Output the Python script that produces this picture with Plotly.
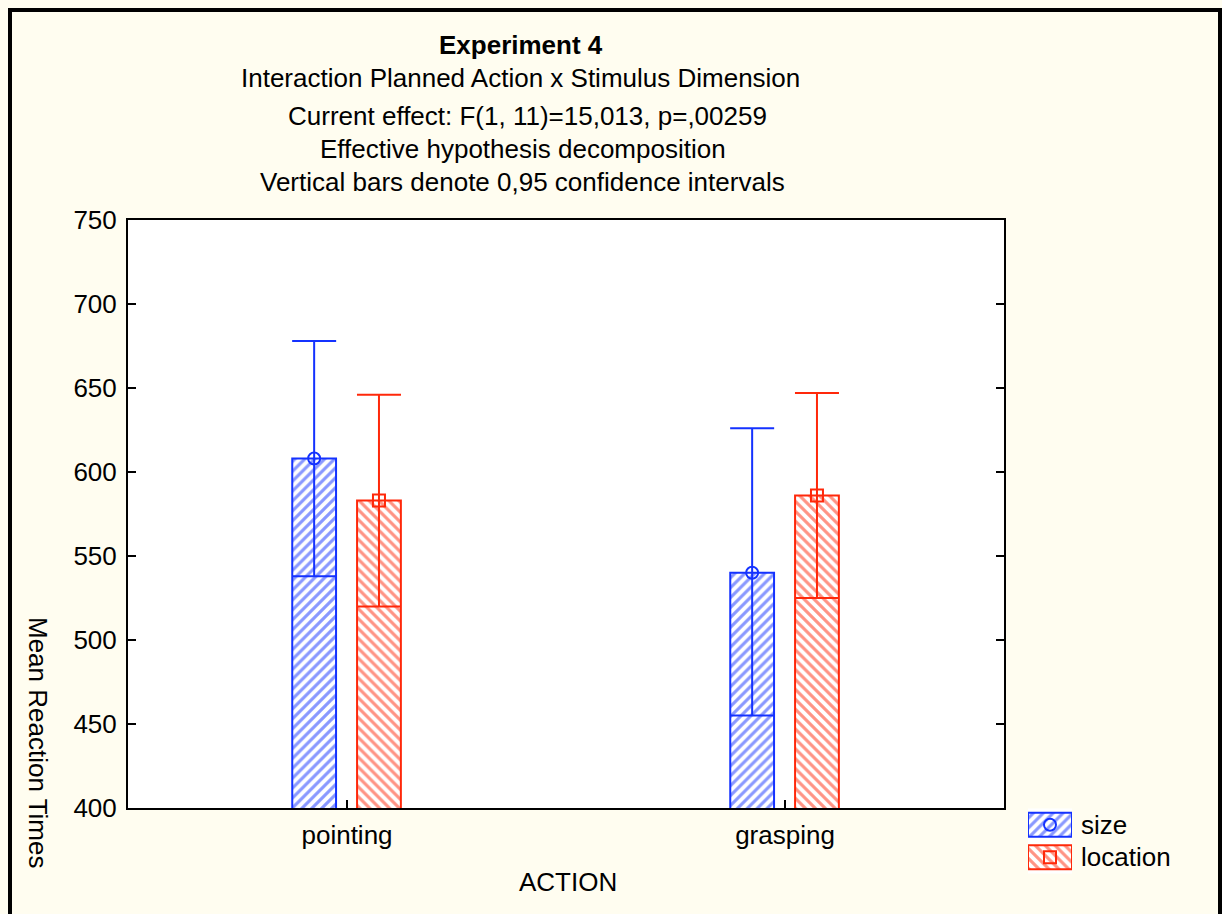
import plotly.graph_objects as go

# ---- data ----
categories = ["pointing", "grasping"]
series_names = ["size", "location"]
size_mean = [608, 540]
size_lo = [538, 455]
size_hi = [678, 626]
loc_mean = [583, 586]
loc_lo = [520, 525]
loc_hi = [646, 647]
y_ticks = [400, 450, 500, 550, 600, 650, 700, 750]

title_lines = [
    "<b>Experiment 4</b>",
    "Interaction Planned Action x Stimulus Dimension",
    "Current effect: F(1, 11)=15,013, p=,00259",
    "Effective hypothesis decomposition",
    "Vertical bars denote 0,95 confidence intervals",
]

# ---- style ----
W, H = 1222, 914
BLUE = "rgb(20,50,255)"
RED = "rgb(255,40,10)"
CREAM = "rgb(255,253,240)"
FONT = "Liberation Sans, Arial, sans-serif"
FS = 26

PL, PR, PT, PB = 128, 1004, 220, 808  # plot area in px


def px_x(px):
    return px / W


def px_y(py):
    return (H - py) / H


idx = list(range(len(categories)))
offsets = {"size": -0.075, "location": 0.073}
colors = {"size": BLUE, "location": RED}
shapes_p = {"size": "/", "location": "\\"}
symbols = {"size": "circle-open", "location": "square-open"}
data = {
    "size": (size_mean, size_lo, size_hi),
    "location": (loc_mean, loc_lo, loc_hi),
}

fig = go.Figure()

for name in series_names:
    mean, lo, hi = data[name]
    xs = [i + offsets[name] for i in idx]
    fig.add_trace(go.Bar(
        x=xs, y=mean, width=0.1, name=name, showlegend=False,
        marker=dict(color="white", line=dict(color=colors[name], width=2),
                    pattern=dict(shape=shapes_p[name], fgcolor=colors[name],
                                 bgcolor="white", size=7, solidity=0.45,
                                 fillmode="overlay")),
        xaxis="x", yaxis="y",
    ))

for name in series_names:
    mean, lo, hi = data[name]
    xs = [i + offsets[name] for i in idx]
    fig.add_trace(go.Scatter(
        x=xs, y=mean, mode="markers", showlegend=False,
        marker=dict(symbol=symbols[name], size=12, color=colors[name],
                    line=dict(width=2, color=colors[name])),
        error_y=dict(type="data", symmetric=False,
                     array=[h - m for h, m in zip(hi, mean)],
                     arrayminus=[m - l for m, l in zip(mean, lo)],
                     color=colors[name], thickness=2, width=22),
        xaxis="x", yaxis="y",
    ))

# legend built on a small axis
for name in series_names:
    fig.add_trace(go.Bar(
        x=[1], y=[name], orientation="h", width=0.74, showlegend=False,
        marker=dict(color="white", line=dict(color=colors[name], width=2),
                    pattern=dict(shape=shapes_p[name], fgcolor=colors[name],
                                 bgcolor="white", size=7, solidity=0.45,
                                 fillmode="overlay")),
        xaxis="x2", yaxis="y2",
    ))
    fig.add_trace(go.Scatter(
        x=[0.5], y=[name], mode="markers", showlegend=False,
        marker=dict(symbol=symbols[name], size=12, color=colors[name],
                    line=dict(width=2, color=colors[name])),
        xaxis="x2", yaxis="y2",
    ))

annotations = []
title_y = [45, 78, 116, 149, 182]
title_x = [521, 520, 527, 523, 522]
for t, yy, xx in zip(title_lines, title_y, title_x):
    annotations.append(dict(text=t, x=px_x(xx), y=px_y(yy), xref="paper", yref="paper",
                            showarrow=False, xanchor="center", yanchor="middle",
                            font=dict(family=FONT, size=FS, color="black")))
annotations.append(dict(text="ACTION", x=px_x(568), y=px_y(882), xref="paper", yref="paper",
                        showarrow=False, xanchor="center", yanchor="middle",
                        font=dict(family=FONT, size=FS, color="black")))
annotations.append(dict(text="Mean Reaction Times", x=px_x(38), y=px_y(742), xref="paper",
                        yref="paper", showarrow=False, textangle=90,
                        xanchor="center", yanchor="middle",
                        font=dict(family=FONT, size=FS, color="black")))

fig.update_layout(
    width=W, height=H,
    margin=dict(l=0, r=0, t=0, b=0, autoexpand=False),
    paper_bgcolor=CREAM, plot_bgcolor="white",
    barmode="overlay",
    font=dict(family=FONT, size=FS, color="black"),
    annotations=annotations,
    xaxis=dict(domain=[px_x(PL), px_x(PR)], range=[-0.5, 1.5], tickvals=idx,
               ticktext=categories, ticks="inside", ticklen=8, tickwidth=1.5,
               tickcolor="black", showline=True, linecolor="black", linewidth=2,
               mirror=True, showgrid=False, zeroline=False, anchor="y",
               ticklabelstandoff=3, automargin=False),
    yaxis=dict(domain=[px_y(PB), px_y(PT)], range=[400, 750], tickvals=y_ticks,
               ticks="inside", ticklen=8, tickwidth=1.5, tickcolor="black",
               showline=True, linecolor="black", linewidth=2, mirror="ticks",
               showgrid=False, zeroline=False, anchor="x", ticklabelstandoff=4,
               automargin=False),
    xaxis2=dict(domain=[px_x(1028), px_x(1072)], range=[0, 1], visible=False,
                anchor="y2", fixedrange=True, automargin=False),
    yaxis2=dict(domain=[px_y(873.5), px_y(808.5)], type="category",
                categoryorder="array", categoryarray=series_names[::-1],
                side="right", anchor="x2", showline=False, showgrid=False,
                zeroline=False, ticks="", ticklabelstandoff=8, automargin=False),
    shapes=[dict(type="rect", xref="paper", yref="paper",
                 x0=px_x(10), x1=px_x(1220), y0=px_y(H + 10), y1=px_y(10),
                 line=dict(color="black", width=4), layer="above")],
)

fig.write_html("out.html")
